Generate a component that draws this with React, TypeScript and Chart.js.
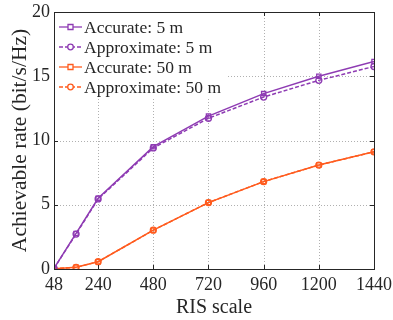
import React, { useEffect, useRef } from "react";
import { Chart, registerables } from "chart.js";

Chart.register(...registerables);

const risScale = [48, 144, 240, 480, 720, 960, 1200, 1440];
const xTicks = [48, 240, 480, 720, 960, 1200, 1440];
const yTicks = [0, 5, 10, 15, 20];
const accurate5m = [0.05, 2.77, 5.5, 9.52, 11.9, 13.65, 15.0, 16.15];
const approx5m = [0.05, 2.72, 5.45, 9.42, 11.73, 13.38, 14.68, 15.76];
const accurate50m = [0.02, 0.13, 0.57, 3.02, 5.17, 6.8, 8.09, 9.12];
const approx50m = [0.02, 0.13, 0.57, 3.02, 5.17, 6.8, 8.09, 9.12];
const seriesNames = ["Accurate: 5 m", "Approximate: 5 m", "Accurate: 50 m", "Approximate: 50 m"];

const PURPLE = "#8E3BB3";
const ORANGE = "#FF5B1E";
const FONT = "'Liberation Serif', 'Times New Roman', serif";

const gridPlugin = {
  id: "dottedGrid",
  beforeDatasetsDraw(chart: any) {
    const { ctx, chartArea, scales } = chart;
    const { left, right, top, bottom } = chartArea;
    ctx.save();
    ctx.strokeStyle = "#b0b0b0";
    ctx.lineWidth = 1;
    ctx.setLineDash([1, 2]);
    ctx.beginPath();
    xTicks.forEach((v) => {
      const x = Math.round(scales.x.getPixelForValue(v)) + 0.5;
      ctx.moveTo(x, top);
      ctx.lineTo(x, bottom);
    });
    yTicks.forEach((v) => {
      const y = Math.round(scales.y.getPixelForValue(v)) + 0.5;
      ctx.moveTo(left, y);
      ctx.lineTo(right, y);
    });
    ctx.stroke();
    ctx.restore();
  },
};

const boxPlugin = {
  id: "boxTicks",
  afterDatasetsDraw(chart: any) {
    const { ctx, chartArea, scales } = chart;
    const { left, right, top, bottom } = chartArea;
    ctx.save();
    ctx.strokeStyle = "#262626";
    ctx.lineWidth = 1;
    const tl = 4;
    ctx.beginPath();
    xTicks.forEach((v) => {
      const x = Math.round(scales.x.getPixelForValue(v)) + 0.5;
      ctx.moveTo(x, bottom);
      ctx.lineTo(x, bottom - tl);
      ctx.moveTo(x, top);
      ctx.lineTo(x, top + tl);
    });
    yTicks.forEach((v) => {
      const y = Math.round(scales.y.getPixelForValue(v)) + 0.5;
      ctx.moveTo(left, y);
      ctx.lineTo(left + tl, y);
      ctx.moveTo(right, y);
      ctx.lineTo(right - tl, y);
    });
    ctx.stroke();
    ctx.strokeRect(Math.round(left) + 0.5, Math.round(top) + 0.5, Math.round(right - left), Math.round(bottom - top));
    ctx.restore();
  },
};

const legendPlugin = {
  id: "innerLegend",
  afterDraw(chart: any) {
    const { ctx, chartArea } = chart;
    const x0 = Math.round(chartArea.left) + 1;
    const y0 = Math.round(chartArea.top) + 1;
    ctx.save();
    ctx.fillStyle = "#ffffff";
    ctx.fillRect(x0, y0, 172, 86);
    ctx.font = `17.5px ${FONT}`;
    ctx.textBaseline = "middle";
    chart.data.datasets.forEach((ds: any, i: number) => {
      const y = y0 + 14 + i * 20;
      const lx0 = x0 + 4;
      const lx1 = x0 + 27;
      ctx.strokeStyle = ds.borderColor;
      ctx.lineWidth = 1.3;
      ctx.setLineDash(ds.borderDash || []);
      ctx.beginPath();
      ctx.moveTo(lx0, y);
      ctx.lineTo(lx1, y);
      ctx.stroke();
      ctx.setLineDash([]);
      const cx = (lx0 + lx1) / 2;
      ctx.beginPath();
      if (ds.pointStyle === "rect") {
        ctx.rect(cx - 2.5, y - 2.5, 5, 5);
      } else {
        ctx.arc(cx, y, 2.8, 0, Math.PI * 2);
      }
      ctx.fillStyle = "#ffffff";
      ctx.fill();
      ctx.stroke();
      ctx.fillStyle = "#262626";
      ctx.fillText(ds.label, x0 + 29, y + 1);
    });
    ctx.restore();
  },
};

export default function App() {
  const ref = useRef<HTMLCanvasElement | null>(null);
  useEffect(() => {
    document.body.style.margin = "0";
    const mk = (label: string, data: number[], color: string, dashed: boolean, style: string) => ({
      label,
      data: risScale.map((x, i) => ({ x, y: data[i] })),
      borderColor: color,
      backgroundColor: "rgba(255,255,255,0)",
      borderWidth: 1.5,
      borderDash: dashed ? [4, 2] : [],
      pointStyle: style,
      pointRadius: 3,
      pointBorderWidth: 1.3,
      pointBackgroundColor: "rgba(255,255,255,0)",
      pointBorderColor: color,
      tension: 0,
    });
    const chart = new Chart(ref.current as HTMLCanvasElement, {
      type: "line",
      data: {
        datasets: [
          mk(seriesNames[0], accurate5m, PURPLE, false, "rect"),
          mk(seriesNames[1], approx5m, PURPLE, true, "circle"),
          mk(seriesNames[2], accurate50m, ORANGE, false, "rect"),
          mk(seriesNames[3], approx50m, ORANGE, true, "circle"),
        ],
      },
      options: {
        animation: false,
        responsive: false,
        devicePixelRatio: 1,
        layout: { padding: { left: 0, right: 19, top: 12, bottom: 0 } },
        plugins: { legend: { display: false }, tooltip: { enabled: false } },
        scales: {
          x: {
            type: "linear",
            min: 48,
            max: 1440,
            afterBuildTicks: (s: any) => {
              s.ticks = xTicks.map((v) => ({ value: v }));
            },
            afterFit: (s: any) => {
              s.height = 51;
              s.paddingLeft = 0;
              s.paddingRight = 0;
            },
            ticks: {
              autoSkip: false,
              maxRotation: 0,
              color: "#262626",
              font: { family: FONT, size: 18 },
              padding: 5,
              callback: (v: any) => String(v),
            },
            grid: { display: false, drawTicks: false },
            border: { display: false },
            title: {
              display: true,
              text: "RIS scale",
              color: "#262626",
              font: { family: FONT, size: 20 },
              padding: { top: 0, bottom: 0 },
            },
          },
          y: {
            min: 0,
            max: 20,
            afterBuildTicks: (s: any) => {
              s.ticks = yTicks.map((v) => ({ value: v }));
            },
            afterFit: (s: any) => {
              s.width = 54;
              s.paddingTop = 0;
              s.paddingBottom = 0;
            },
            ticks: {
              color: "#262626",
              font: { family: FONT, size: 18 },
              padding: 4,
              callback: (v: any) => String(v),
            },
            grid: { display: false, drawTicks: false },
            border: { display: false },
            title: {
              display: true,
              text: "Achievable rate (bit/s/Hz)",
              color: "#262626",
              font: { family: FONT, size: 21.5 },
              padding: { top: 7, bottom: 0 },
            },
          },
        },
      },
      plugins: [gridPlugin, boxPlugin, legendPlugin],
    } as any);
    return () => chart.destroy();
  }, []);
  return <canvas ref={ref} width={393} height={320} style={{ display: "block" }} />;
}
